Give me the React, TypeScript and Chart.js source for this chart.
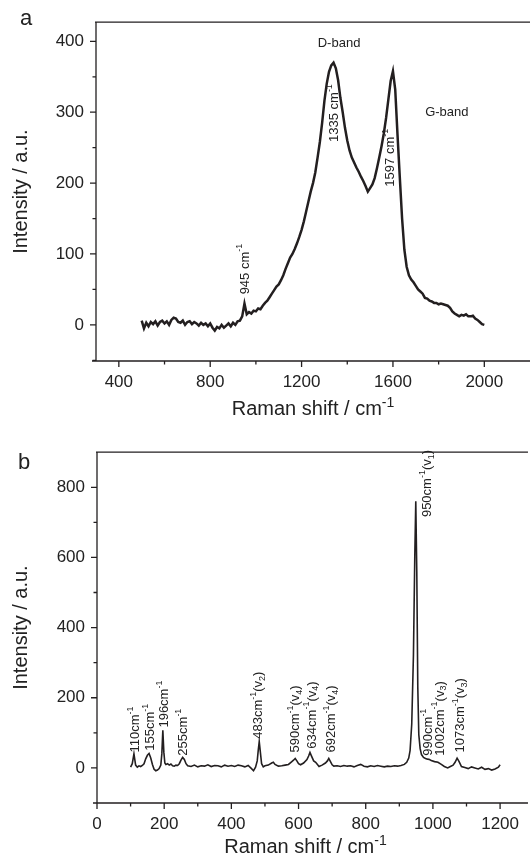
import React, { useEffect, useRef } from "react";
import { Chart, registerables } from "chart.js";

Chart.register(...registerables);

const FONT = '"Liberation Sans", Arial, Helvetica, sans-serif';
const INK = "#231f20";

// ---------- Panel a : carbon Raman spectrum ----------
const shiftA = [
  500, 510, 520, 530, 540, 550, 560, 570, 580, 590, 600, 610, 620, 630, 640, 650, 660, 670, 680, 690,
  700, 710, 720, 730, 740, 750, 760, 770, 780, 790, 800, 810, 820, 830, 840, 850, 860, 870, 880, 890,
  900, 910, 920, 930, 940, 950, 960, 970, 980, 990, 1000, 1010, 1020, 1030, 1040, 1050, 1060, 1070, 1080, 1090,
  1100, 1110, 1120, 1130, 1140, 1150, 1160, 1170, 1180, 1190, 1200, 1210, 1220, 1230, 1240, 1250, 1260, 1270, 1280, 1290,
  1300, 1310, 1320, 1330, 1340, 1350, 1360, 1370, 1380, 1390, 1400, 1410, 1420, 1430, 1440, 1450, 1460, 1470, 1480, 1490,
  1500, 1510, 1520, 1530, 1540, 1550, 1560, 1570, 1580, 1590, 1600, 1610, 1620, 1630, 1640, 1650, 1660, 1670, 1680, 1690,
  1700, 1710, 1720, 1730, 1740, 1750, 1760, 1770, 1780, 1790, 1800, 1810, 1820, 1830, 1840, 1850, 1860, 1870, 1880, 1890,
  1900, 1910, 1920, 1930, 1940, 1950, 1960, 1970, 1980, 1990, 2000,
];
const intensityA = [
  6, -5, 3, -2, 4, 1, 5, -1, 4, 6, 2, 5, 0, 7, 10, 9, 4, 3, 6, 0,
  4, 5, 1, 4, 2, -1, 3, 0, 2, -2, 2, -4, -8, -3, -5, 0, -4, -1, 2, -2,
  3, 0, 5, 6, 12, 30, 15, 18, 16, 20, 19, 23, 22, 27, 31, 34, 39, 44, 49, 54,
  57, 63, 70, 79, 87, 95, 100, 107, 115, 124, 134, 146, 160, 174, 188, 200, 215, 236, 258, 285,
  316, 340, 357, 366, 370, 362, 345, 320, 300, 278, 260, 246, 236, 229, 222, 216, 209, 203, 196, 188,
  193, 198, 207, 221, 236, 252, 270, 292, 318, 344, 358, 332, 268, 208, 150, 106, 82, 70, 64, 60,
  55, 50, 47, 44, 38, 37, 34, 33, 31, 31, 29, 30, 29, 28, 27, 24, 19, 16, 14, 12,
  14, 13, 15, 12, 12, 13, 9, 7, 4, 1, 0,
];
const xMajorA = [400, 800, 1200, 1600, 2000];
const xMinorA = [600, 1000, 1400, 1800];
const yMajorA = [0, 100, 200, 300, 400];
const yMinorA = [-50, 50, 150, 250, 350];
// annotations: text, data x, data y, vertical?
const noteTextA = ["945 cm^{-1}", "1335 cm^{-1}", "1597 cm^{-1}", "D-band", "G-band"];
const noteXA = [952, 1345, 1589, 1364, 1836];
const noteYA = [43, 258, 195, 397, 300];
const noteVertA = [true, true, true, false, false];

// ---------- Panel b : phosphate Raman spectrum ----------
const shiftB = [
  100, 105, 110, 115, 120, 125, 130, 135, 140, 145, 150, 155, 160, 165, 170, 175, 180, 185, 190, 193,
  196, 199, 202, 205, 210, 215, 220, 225, 230, 235, 240, 245, 250, 255, 260, 265, 270, 280, 290, 300,
  310, 320, 330, 340, 350, 360, 370, 380, 390, 400, 410, 420, 430, 440, 450, 460, 466, 472, 477, 480,
  483, 486, 490, 495, 500, 510, 520, 525, 530, 540, 550, 560, 570, 580, 585, 590, 595, 600, 606, 615,
  625, 630, 634, 638, 645, 651, 661, 670, 680, 686, 690, 695, 700, 705, 715, 725, 735, 745, 755, 765,
  775, 785, 795, 805, 815, 825, 835, 845, 855, 865, 875, 885, 895, 905, 915, 922, 928, 932, 937, 942,
  946, 949, 952, 955, 958, 962, 966, 972, 978, 984, 990, 995, 1005, 1015, 1025, 1034, 1044, 1052, 1060, 1066,
  1072, 1078, 1085, 1095, 1105, 1115, 1125, 1135, 1145, 1155, 1165, 1175, 1185, 1195, 1200,
];
const intensityB = [
  2, 12, 40, 8, 2, 6, 4, 7, 12, 26, 36, 41, 28, 10, -4, -8, -6, -2, 8, 40,
  107, 45, 14, 10, 12, 8, 11, 6, 5, 8, 7, 12, 22, 30, 24, 12, 6, 4, 8, 3,
  6, 5, 9, 4, 7, 6, 3, 8, 5, 7, 4, 8, 6, 3, 7, -2, -8, 2, 20, 50,
  75, 48, 12, 3, 6, 8, 14, 16, 10, 5, 6, 8, 10, 18, 22, 27, 20, 12, 9, 14,
  24, 34, 44, 35, 20, 16, 4, 8, 14, 20, 27, 18, 9, 5, 6, 4, 7, 5, 6, 3,
  7, 10, 5, 3, 6, 4, 7, 5, 3, 5, 4, 6, 5, 7, 10, 16, 28, 49, 125, 320,
  600, 760, 560, 230, 95, 55, 38, 30, 27, 25, 24, 21, 18, 16, 10, 4, 0, 4, 8, 16,
  28, 18, 4, 1, -2, 3, 0, -3, 2, -4, -2, -6, -3, 2, 9,
];
const xMajorB = [0, 200, 400, 600, 800, 1000, 1200];
const xMinorB = [100, 300, 500, 700, 900, 1100];
const yMajorB = [0, 200, 400, 600, 800];
const yMinorB = [-100, 100, 300, 500, 700];
const noteTextB = [
  "110cm^{-1}", "155cm^{-1}", "196cm^{-1}", "255cm^{-1}", "483cm^{-1}(v_{2})",
  "590cm^{-1}(v_{4})", "634cm^{-1}(v_{4})", "692cm^{-1}(v_{4})", "950cm^{-1}(v_{1})",
  "990cm^{-1}", "1002cm^{-1}(v_{3})", "1073cm^{-1}(v_{3})",
];
const noteXB = [115, 159, 201, 257, 482, 591, 640, 697, 983, 986, 1021, 1083];
const noteYB = [44, 49, 115, 35, 83, 44, 55, 44, 715, 35, 35, 44];

// ---------- helpers ----------
type Seg = { t: string; k: number };
function parseRich(s: string): Seg[] {
  const out: Seg[] = [];
  const re = /([\^_])\{([^}]*)\}/g;
  let last = 0;
  let m: RegExpExecArray | null;
  while ((m = re.exec(s))) {
    if (m.index > last) out.push({ t: s.slice(last, m.index), k: 0 });
    out.push({ t: m[2], k: m[1] === "^" ? 1 : -1 });
    last = re.lastIndex;
  }
  if (last < s.length) out.push({ t: s.slice(last), k: 0 });
  return out;
}

function drawRich(
  ctx: CanvasRenderingContext2D,
  text: string,
  size: number,
  small: number,
  supShift: number,
  subShift: number,
  align: "left" | "center"
) {
  const segs = parseRich(text);
  const widths = segs.map((sg) => {
    ctx.font = `${sg.k ? small : size}px ${FONT}`;
    return ctx.measureText(sg.t).width;
  });
  const total = widths.reduce((a, b) => a + b, 0);
  let x = align === "center" ? -total / 2 : 0;
  ctx.textAlign = "left";
  segs.forEach((sg, i) => {
    ctx.font = `${sg.k ? small : size}px ${FONT}`;
    const dy = sg.k === 1 ? -supShift : sg.k === -1 ? subShift : 0;
    ctx.fillText(sg.t, x, dy);
    x += widths[i];
  });
}

const decorPlugin = {
  id: "decor",
  afterDatasetsDraw(chart: any) {
    const cfg = chart.options.plugins.decor;
    if (!cfg) return;
    const { ctx, chartArea: ca, scales } = chart;
    const xs = scales.x;
    const ys = scales.y;
    ctx.save();
    ctx.strokeStyle = INK;
    ctx.lineWidth = 1.3;
    ctx.beginPath();
    ctx.moveTo(ca.left, ca.top);
    ctx.lineTo(ca.left, ca.bottom);
    ctx.moveTo(ca.left - 4, ca.bottom);
    ctx.lineTo(ca.right, ca.bottom);
    ctx.moveTo(ca.left - 1, ca.top);
    ctx.lineTo(ca.right, ca.top);
    cfg.xMajor.forEach((v: number) => {
      const p = xs.getPixelForValue(v);
      ctx.moveTo(p, ca.bottom);
      ctx.lineTo(p, ca.bottom + 6);
    });
    cfg.xMinor.forEach((v: number) => {
      const p = xs.getPixelForValue(v);
      ctx.moveTo(p, ca.bottom);
      ctx.lineTo(p, ca.bottom + 3.5);
    });
    cfg.yMajor.forEach((v: number) => {
      const p = ys.getPixelForValue(v);
      ctx.moveTo(ca.left, p);
      ctx.lineTo(ca.left - 6, p);
    });
    cfg.yMinor.forEach((v: number) => {
      const p = ys.getPixelForValue(v);
      ctx.moveTo(ca.left, p);
      ctx.lineTo(ca.left - 3.5, p);
    });
    ctx.stroke();

    ctx.fillStyle = "#222";
    // annotations
    cfg.notes.forEach((n: any) => {
      const px = xs.getPixelForValue(n.x);
      const py = ys.getPixelForValue(n.y);
      ctx.save();
      ctx.translate(px, py);
      ctx.textBaseline = "middle";
      if (n.vert) {
        ctx.rotate(-Math.PI / 2);
        drawRich(ctx, n.text, 13, 9, 5, 4, "left");
      } else {
        drawRich(ctx, n.text, 13, 9, 5, 4, "center");
      }
      ctx.restore();
    });

    // x-axis title with superscript
    ctx.save();
    ctx.textBaseline = "alphabetic";
    ctx.translate((ca.left + ca.right) / 2 + cfg.titleDX, ca.bottom + cfg.titleDY);
    drawRich(ctx, "Raman shift / cm^{-1}", 20, 14, 8, 0, "center");
    ctx.restore();

    // panel letter
    ctx.font = `22px ${FONT}`;
    ctx.textAlign = "left";
    ctx.textBaseline = "alphabetic";
    ctx.fillText(cfg.letter, cfg.letterX, cfg.letterY);
    ctx.restore();
  },
};

function makeConfig(
  xs: number[],
  ys: number[],
  xRange: [number, number],
  yRange: [number, number],
  xMajor: number[],
  xMinor: number[],
  yMajor: number[],
  yMinor: number[],
  notes: any[],
  yWidth: number,
  xHeight: number,
  topPad: number,
  lineW: number,
  letter: string,
  letterX: number,
  letterY: number,
  titleDX: number,
  titleDY: number
): any {
  const tickFont = { family: FONT, size: 17 };
  return {
    type: "line",
    data: {
      datasets: [
        {
          data: xs.map((x, i) => ({ x, y: ys[i] })),
          borderColor: INK,
          borderWidth: lineW,
          pointRadius: 0,
          tension: 0,
          fill: false,
        },
      ],
    },
    options: {
      animation: false,
      responsive: false,
      devicePixelRatio: 1,
      layout: { padding: { top: topPad, left: 0, right: 0, bottom: 0 } },
      plugins: {
        legend: { display: false },
        tooltip: { enabled: false },
        decor: {
          xMajor,
          xMinor,
          yMajor,
          yMinor,
          notes,
          letter,
          letterX,
          letterY,
          titleDX,
          titleDY,
        },
      },
      scales: {
        x: {
          type: "linear",
          min: xRange[0],
          max: xRange[1],
          grid: { display: false, drawTicks: false },
          border: { display: false },
          afterBuildTicks: (s: any) => {
            s.ticks = xMajor.map((v) => ({ value: v }));
          },
          afterFit: (s: any) => {
            s.height = xHeight;
          },
          ticks: {
            autoSkip: false,
            maxRotation: 0,
            padding: 11,
            color: "#222",
            font: tickFont,
            callback: (v: any) => String(v),
          },
        },
        y: {
          type: "linear",
          min: yRange[0],
          max: yRange[1],
          grid: { display: false, drawTicks: false },
          border: { display: false },
          afterBuildTicks: (s: any) => {
            s.ticks = yMajor.map((v) => ({ value: v }));
          },
          afterFit: (s: any) => {
            s.width = yWidth;
          },
          ticks: {
            autoSkip: false,
            padding: 12,
            color: "#222",
            font: tickFont,
            callback: (v: any) => String(v),
          },
          title: {
            display: true,
            text: "Intensity / a.u.",
            color: "#222",
            font: { family: FONT, size: 20 },
            padding: { top: 9, bottom: 0 },
          },
        },
      },
    },
    plugins: [decorPlugin],
  };
}

export default function App() {
  const refA = useRef<HTMLCanvasElement | null>(null);
  const refB = useRef<HTMLCanvasElement | null>(null);

  useEffect(() => {
    const notesA = noteTextA.map((t, i) => ({ text: t, x: noteXA[i], y: noteYA[i], vert: noteVertA[i] }));
    const notesB = noteTextB.map((t, i) => ({ text: t, x: noteXB[i], y: noteYB[i], vert: true }));
    const cA = new Chart(
      refA.current as HTMLCanvasElement,
      makeConfig(
        shiftA, intensityA, [300, 2200], [-51, 427],
        xMajorA, xMinorA, yMajorA, yMinorA, notesA,
        96, 69, 9, 2.5, "a", 20, 25, 0, 54
      )
    );
    const cB = new Chart(
      refB.current as HTMLCanvasElement,
      makeConfig(
        shiftB, intensityB, [0, 1283], [-100, 900],
        xMajorB, xMinorB, yMajorB, yMinorB, notesB,
        97, 62, 20, 1.6, "b", 18, 39, -7, 50
      )
    );
    return () => {
      cA.destroy();
      cB.destroy();
    };
  }, []);

  return (
    <div style={{ position: "absolute", left: 0, top: 0, width: 530, height: 865, background: "#fff" }}>
      <canvas ref={refA} width={530} height={430} style={{ position: "absolute", left: 0, top: 0 }} />
      <canvas ref={refB} width={530} height={435} style={{ position: "absolute", left: 0, top: 430 }} />
    </div>
  );
}
